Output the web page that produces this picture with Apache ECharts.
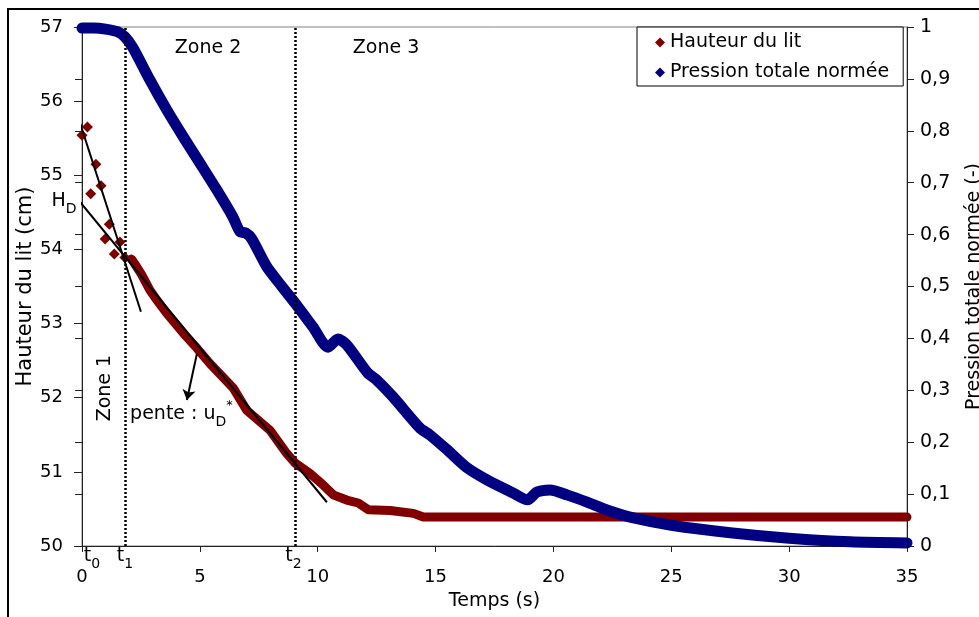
<!DOCTYPE html>
<html><head><meta charset="utf-8">
<script src="https://cdn.jsdelivr.net/npm/echarts@6/dist/echarts.min.js"></script>
<style>html,body{margin:0;padding:0;background:#fff}#c{width:979px;height:617px}</style>
</head><body><div id="c"></div>
<script>
// ---- data ----
// Hauteur du lit : discrete early points (zone 1)
const tRedEarly = [0, 0.23, 0.37, 0.59, 0.81, 0.98, 1.16, 1.37, 1.61, 1.82];
const hRedEarly = [55.54, 55.65, 54.75, 55.15, 54.86, 54.14, 54.34, 53.94, 54.10, 53.89];
// Hauteur du lit : dense part
const tRed = [2.1, 2.25, 2.53, 2.88, 3.17, 3.59, 4.3, 4.87, 5.43, 6.42, 6.99, 7.98, 8.68, 9.04, 9.67, 10.24, 10.66, 11.23, 11.72, 12.15, 13.07, 14.06, 14.48, 35];
const hRed = [53.87, 53.80, 53.66, 53.45, 53.32, 53.14, 52.87, 52.67, 52.46, 52.13, 51.83, 51.56, 51.25, 51.12, 50.98, 50.82, 50.69, 50.62, 50.58, 50.49, 50.48, 50.44, 50.39, 50.39];
// Pression totale normée
const tBlue = [0, 0.5, 1.0, 1.5, 1.82, 2.16, 2.88, 3.6, 4.3, 5.0, 5.72, 6.4, 6.7, 6.95, 7.2, 7.84, 8.5, 9.04, 9.8, 10.44, 10.86, 11.24, 12.13, 12.5, 13.2, 14.34, 14.76, 15.5, 16.3, 17.2, 18.3, 18.9, 19.3, 19.85, 20.6, 21.4, 22.3, 23.4, 25, 27.6, 30, 32.6, 35];
const pBlue = [0.998, 0.998, 0.996, 0.991, 0.981, 0.96, 0.898, 0.84, 0.788, 0.738, 0.686, 0.634, 0.606, 0.603, 0.592, 0.538, 0.499, 0.468, 0.422, 0.383, 0.399, 0.387, 0.333, 0.32, 0.287, 0.227, 0.214, 0.185, 0.152, 0.127, 0.102, 0.089, 0.104, 0.108, 0.098, 0.085, 0.069, 0.054, 0.040, 0.025, 0.015, 0.008, 0.006];
// tangent lines (start, end) in (t, H)
const tangent1 = [[-0.3, 55.92], [2.5, 53.16]];
const tangent2 = [[-0.42, 54.77], [10.39, 50.59]];
// arrow from band to label
const arrowLine = [[4.88, 52.60], [4.45, 51.97]];
// zone boundaries t1, t2
const zoneTimes = [1.82, 9.04];
// axis ticks
const xTicks = {min: 0, max: 35, interval: 5};
const yLeftTicks = {min: 50, max: 57, interval: 1};
const yRightTicks = {min: 0, max: 1, interval: 0.1};
// annotations: [t, H, rich text, rotate]
const annotations = [
  [5.35, 56.72, '{z|Zone 2}', 0],
  [12.90, 56.72, '{z|Zone 3}', 0],
  [0.98, 52.13, '{z|Zone 1}', 90],
  [4.22, 51.78, '{m|pente : u}{s|D}{p|*}', 0],
  [-0.76, 54.65, '{m|H}{s|D}', 0],
  [0.42, 49.86, '{m|t}{s|0}', 0],
  [1.82, 49.86, '{m|t}{s|1}', 0],
  [8.97, 49.86, '{m|t}{s|2}', 0]
];

const F = 'DejaVu Sans';
const RED = '#800000', BLUE = '#000080';
const zip = (a, b) => a.map((v, i) => [v, b[i]]);

const chart = echarts.init(document.getElementById('c'), null, {renderer: 'canvas'});
const rich = {
  z: {fontSize: 19, fontFamily: F, color: '#000'},
  m: {fontSize: 19, fontFamily: F, color: '#000', lineHeight: 30},
  s: {fontSize: 14, fontFamily: F, color: '#000', lineHeight: 14, verticalAlign: 'bottom'},
  p: {fontSize: 13, fontFamily: F, color: '#000', lineHeight: 13, verticalAlign: 'top'}
};
const fmtR = v => v === 0 ? '0' : (v === 1 ? '1' : v.toFixed(1).replace('.', ','));

chart.setOption({
  animation: false,
  textStyle: {fontFamily: F, color: '#000'},
  grid: {left: 82, right: 72, top: 27, bottom: 71, show: true, borderColor: '#808080', borderWidth: 1,
         containLabel: false, outerBoundsMode: 'none'},
  legend: {
    data: [{name: 'Hauteur du lit', icon: 'diamond'}, {name: 'Pression totale normée', icon: 'diamond'}],
    orient: 'vertical', left: 637, top: 27,
    padding: [6, 14, 4, 18], itemGap: 11, itemWidth: 10, itemHeight: 10,
    backgroundColor: '#fff', borderColor: '#000', borderWidth: 1,
    selectedMode: false, z: 10,
    textStyle: {fontSize: 19, fontFamily: F, color: '#000'}
  },
  xAxis: {
    type: 'value', min: xTicks.min, max: xTicks.max, interval: xTicks.interval,
    name: 'Temps (s)', nameLocation: 'middle', nameGap: 46, nameMoveOverlap: false,
    nameTextStyle: {fontSize: 19, fontFamily: F, color: '#000'},
    axisLine: {show: true, onZero: false, lineStyle: {color: '#222', width: 1}},
    axisTick: {show: true, length: 6, lineStyle: {color: '#222'}},
    axisLabel: {fontSize: 18, color: '#000', margin: 22},
    splitLine: {show: false}
  },
  yAxis: [
    {
      type: 'value', position: 'left', min: yLeftTicks.min, max: yLeftTicks.max, interval: yLeftTicks.interval,
      name: 'Hauteur du lit (cm)', nameLocation: 'middle', nameGap: 46, nameRotate: 90, nameMoveOverlap: false,
      nameTextStyle: {fontSize: 21, fontFamily: F, color: '#000'},
      axisLine: {show: true, onZero: false, lineStyle: {color: '#222', width: 1}},
      axisTick: {show: true, length: 8, lineStyle: {color: '#222'}},
      axisLabel: {fontSize: 18, color: '#000', margin: 19},
      splitLine: {show: false}
    },
    {
      type: 'value', position: 'right', min: yRightTicks.min, max: yRightTicks.max, interval: yRightTicks.interval,
      name: 'Pression totale normée (-)', nameLocation: 'middle', nameGap: 58, nameRotate: 90, nameMoveOverlap: false,
      nameTextStyle: {fontSize: 19, fontFamily: F, color: '#000'},
      axisLine: {show: true, onZero: false, lineStyle: {color: '#222', width: 1}},
      axisTick: {show: true, length: 7, lineStyle: {color: '#222'}},
      axisLabel: {fontSize: 19, color: '#000', margin: 13, formatter: fmtR},
      splitLine: {show: false}
    },
    {
      type: 'value', position: 'right', min: yRightTicks.min, max: yRightTicks.max, interval: yRightTicks.interval,
      axisLine: {show: false},
      axisTick: {show: true, inside: true, length: 7, lineStyle: {color: '#222'}},
      axisLabel: {show: false},
      splitLine: {show: false}
    }
  ],
  series: [
    {
      name: 'Hauteur du lit', type: 'scatter', yAxisIndex: 0,
      symbol: 'diamond', symbolSize: 11,
      itemStyle: {color: RED, opacity: 1}, data: zip(tRedEarly, hRedEarly), z: 2
    },
    {
      name: 'Hauteur du lit', type: 'line', yAxisIndex: 0,
      showSymbol: false, symbol: 'diamond',
      itemStyle: {color: RED}, lineStyle: {color: RED, width: 9, join: 'round', cap: 'round'},
      data: zip(tRed, hRed), z: 2
    },
    {
      name: 'Pression totale normée', type: 'line', yAxisIndex: 1,
      showSymbol: false, symbol: 'diamond', smooth: 0.25,
      itemStyle: {color: BLUE}, lineStyle: {color: BLUE, width: 11, join: 'round', cap: 'round'},
      data: zip(tBlue, pBlue), z: 3
    },
    {
      name: 'tangent1', type: 'line', yAxisIndex: 0, clip: false, showSymbol: false, symbol: 'none',
      lineStyle: {color: '#000', width: 2}, data: tangent1, z: 4
    },
    {
      name: 'tangent2', type: 'line', yAxisIndex: 0, clip: false, showSymbol: false, symbol: 'none',
      lineStyle: {color: '#000', width: 2}, data: tangent2, z: 4,
      markLine: {
        silent: true, symbol: ['none', 'arrow'], symbolSize: 10,
        lineStyle: {color: '#000', width: 2, type: 'solid'}, label: {show: false},
        data: [[{coord: arrowLine[0]}, {coord: arrowLine[1]}]]
      }
    },
    {
      name: 'annot', type: 'scatter', yAxisIndex: 0, clip: false, symbolSize: 0, silent: true, z: 5,
      itemStyle: {color: '#000', opacity: 1},
      data: annotations.map(a => ({
        value: [a[0], a[1]],
        label: {show: true, position: 'inside', formatter: a[2], rotate: a[3], rich: rich,
                color: '#000', textBorderWidth: 0, fontFamily: F}
      })),
      markLine: {
        silent: true, symbol: ['none', 'none'],
        lineStyle: {color: '#000', width: 2.5, type: [2, 2]}, label: {show: false},
        data: zoneTimes.map(t => ({xAxis: t}))
      }
    }
  ],
  graphic: [
    {type: 'rect', silent: true, z: 100, shape: {x: 8, y: 9, width: 1000, height: 700},
     style: {fill: 'none', stroke: '#000', lineWidth: 2}}
  ]
});
</script></body></html>
